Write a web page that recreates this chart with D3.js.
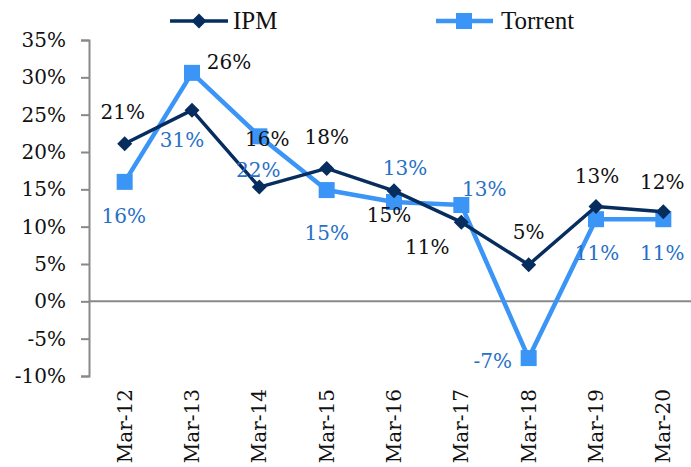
<!DOCTYPE html>
<html>
<head>
<meta charset="utf-8">
<script src="https://cdn.jsdelivr.net/npm/d3@7"></script>
<style>
  body { margin: 0; background: #fff; }
  svg { display: block; }
</style>
</head>
<body>
<script>

// data
var years = ["Mar-12", "Mar-13", "Mar-14", "Mar-15", "Mar-16", "Mar-17", "Mar-18", "Mar-19", "Mar-20"];
var ipm = [21.1, 25.6, 15.3, 17.8, 14.8, 10.6, 4.9, 12.7, 12.0];
var torrent = [16.0, 30.6, 22.1, 14.9, 13.3, 12.9, -7.6, 11.0, 11.0];
var ipmLabels = ["21%", "26%", "16%", "18%", "15%", "11%", "5%", "13%", "12%"];
var torrentLabels = ["16%", "31%", "22%", "15%", "13%", "13%", "-7%", "11%", "11%"];
var yTicks = [-10, -5, 0, 5, 10, 15, 20, 25, 30, 35];

// label offsets from their point (px)
var ipmOffsets = [[-2, -32], [37, -48], [8, -48], [0, -31], [-5, 24], [-34, 25], [0, -33], [1, -31], [-1, -30]];
var torrentOffsets = [[-1, 34], [-10, 67], [-1, 34], [0, 43], [11, -34], [23, -16], [-36, 3], [1, 34], [-1, 34]];

var width = 691, height = 467;
var navy = "#062d5e", blue = "#3a95f6", blueText = "#2870c6", grey = "#898989";
var font = "'DejaVu Serif', serif";

var svg = d3.select("body")
  .append("svg")
    .attr("width", width)
    .attr("height", height);

var x = d3.scaleBand()
  .domain(years)
  .range([91, 697]);

var y = d3.scaleLinear()
  .domain([-10, 35])
  .range([376, 40]);

var cx = function(d, i) { return x(years[i]) + x.bandwidth() / 2; };

// y axis
var yAxis = svg.append("g")
  .attr("transform", "translate(89,0)")
  .call(d3.axisLeft(y)
    .tickValues(yTicks)
    .tickSize(8)
    .tickPadding(15)
    .tickFormat(function(d) { return d + "%"; }));
yAxis.selectAll("path, line")
  .attr("stroke", grey)
  .attr("stroke-width", 2);
yAxis.selectAll("text")
  .attr("fill", "#111")
  .style("font-family", font)
  .style("font-size", "20px");

// zero line
svg.append("line")
  .attr("x1", 89)
  .attr("x2", width)
  .attr("y1", y(0))
  .attr("y2", y(0))
  .attr("stroke", grey)
  .attr("stroke-width", 2);

// x labels, rotated
svg.append("g")
  .selectAll("text")
  .data(years)
  .enter()
  .append("text")
    .attr("transform", function(d) { return "translate(" + (x(d) + x.bandwidth() / 2 + 7) + ",389) rotate(-90)"; })
    .attr("text-anchor", "end")
    .style("font-family", font)
    .style("font-size", "20px")
    .attr("fill", "#111")
    .text(function(d) { return d; });

var line = d3.line()
  .x(cx)
  .y(function(d) { return y(d); });

var diamond = "M0,-7.5L7.5,0L0,7.5L-7.5,0Z";

// Torrent
svg.append("path")
  .datum(torrent)
  .attr("d", line)
  .attr("fill", "none")
  .attr("stroke", blue)
  .attr("stroke-width", 4.5)
  .attr("stroke-linejoin", "round");
svg.append("g")
  .selectAll("rect")
  .data(torrent)
  .enter()
  .append("rect")
    .attr("x", function(d, i) { return cx(d, i) - 8; })
    .attr("y", function(d) { return y(d) - 8; })
    .attr("width", 16)
    .attr("height", 16)
    .attr("fill", blue);

// IPM
svg.append("path")
  .datum(ipm)
  .attr("d", line)
  .attr("fill", "none")
  .attr("stroke", navy)
  .attr("stroke-width", 3.5)
  .attr("stroke-linejoin", "round");
svg.append("g")
  .selectAll("path")
  .data(ipm)
  .enter()
  .append("path")
    .attr("d", diamond)
    .attr("transform", function(d, i) { return "translate(" + cx(d, i) + "," + y(d) + ")"; })
    .attr("fill", navy);

// data labels
svg.append("g")
  .selectAll("text")
  .data(ipm)
  .enter()
  .append("text")
    .attr("x", function(d, i) { return cx(d, i) + ipmOffsets[i][0]; })
    .attr("y", function(d, i) { return y(d) + ipmOffsets[i][1]; })
    .attr("text-anchor", "middle")
    .attr("dominant-baseline", "central")
    .style("font-family", font)
    .style("font-size", "20px")
    .attr("fill", "#111")
    .text(function(d, i) { return ipmLabels[i]; });

svg.append("g")
  .selectAll("text")
  .data(torrent)
  .enter()
  .append("text")
    .attr("x", function(d, i) { return cx(d, i) + torrentOffsets[i][0]; })
    .attr("y", function(d, i) { return y(d) + torrentOffsets[i][1]; })
    .attr("text-anchor", "middle")
    .attr("dominant-baseline", "central")
    .style("font-family", font)
    .style("font-size", "20px")
    .attr("fill", blueText)
    .text(function(d, i) { return torrentLabels[i]; });

// legend
var legend = svg.append("g");
legend.append("line")
  .attr("x1", 170).attr("x2", 228).attr("y1", 21).attr("y2", 21)
  .attr("stroke", navy).attr("stroke-width", 3.5);
legend.append("path")
  .attr("d", diamond)
  .attr("transform", "translate(199,21)")
  .attr("fill", navy);
legend.append("text")
  .attr("x", 233).attr("y", 29)
  .style("font-family", "'Liberation Serif', serif")
  .style("font-size", "25px")
  .attr("fill", "#111")
  .text("IPM");

legend.append("line")
  .attr("x1", 436).attr("x2", 493).attr("y1", 21).attr("y2", 21)
  .attr("stroke", blue).attr("stroke-width", 4.5);
legend.append("rect")
  .attr("x", 456).attr("y", 13).attr("width", 16).attr("height", 16)
  .attr("fill", blue);
legend.append("text")
  .attr("x", 501).attr("y", 29)
  .style("font-family", "'Liberation Serif', serif")
  .style("font-size", "25px")
  .attr("fill", "#111")
  .text("Torrent");

</script>
</body>
</html>
